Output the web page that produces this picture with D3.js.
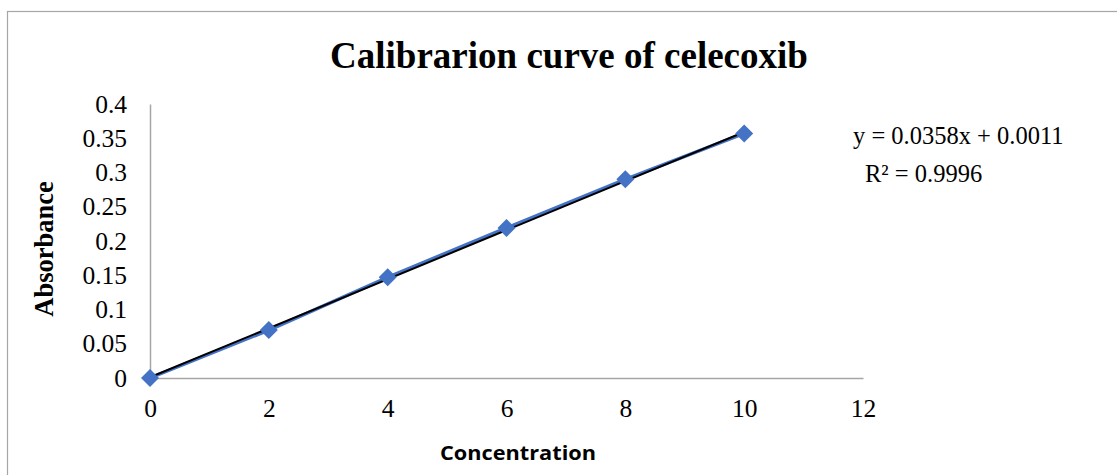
<!DOCTYPE html>
<html>
<head>
<meta charset="utf-8">
<script src="https://cdn.jsdelivr.net/npm/d3@7"></script>
<style>
  body { margin: 0; background: #fff; }
  svg { display: block; }
</style>
</head>
<body>
<svg id="chart" width="1117" height="475"></svg>
<script>
// data
const concentration = [0, 2, 4, 6, 8, 10];
const absorbance = [0, 0.070, 0.147, 0.219, 0.290, 0.357];
const xTicks = [0, 2, 4, 6, 8, 10, 12];
const yTicks = [0, 0.05, 0.1, 0.15, 0.2, 0.25, 0.3, 0.35, 0.4];
const slope = 0.0358, intercept = 0.0011;

const svg = d3.select('#chart');
const serif = '"Liberation Serif", "Times New Roman", serif';

// outer frame
svg.append('rect')
  .attr('x', 7.5).attr('y', 11.5)
  .attr('width', 1130).attr('height', 480)
  .attr('fill', 'none')
  .attr('stroke', '#a6a6a6')
  .attr('stroke-width', 1.2);

const plotLeft = 150, plotRight = 863, plotTop = 104, plotBottom = 378;

const x = d3.scaleLinear().domain([0, 12]).range([plotLeft, plotRight]);
const y = d3.scaleLinear().domain([0, 0.4]).range([plotBottom, plotTop]);

// axes without tick marks
const xAxis = svg.append('g')
  .attr('transform', `translate(0, ${plotBottom})`)
  .call(d3.axisBottom(x).tickValues(xTicks).tickSize(0).tickPadding(22).tickFormat(d3.format('d')));
const yAxis = svg.append('g')
  .attr('transform', `translate(${plotLeft}, 0)`)
  .call(d3.axisLeft(y).tickValues(yTicks).tickSize(0).tickPadding(23).tickFormat(d => String(+d.toFixed(2))));

[xAxis, yAxis].forEach(a => {
  a.select('.domain').attr('stroke', '#a6a6a6').attr('stroke-width', 1.5);
  a.selectAll('text')
    .attr('font-family', serif)
    .attr('font-size', 25.5)
    .attr('fill', '#000');
});
xAxis.selectAll('text').attr('dy', '0.68em');

const pts = concentration.map((c, i) => ({ x: c, y: absorbance[i] }));

// data line
svg.append('path')
  .datum(pts)
  .attr('fill', 'none')
  .attr('stroke', '#4472c4')
  .attr('stroke-width', 3.5)
  .attr('d', d3.line().x(d => x(d.x)).y(d => y(d.y)));

// linear trend line
const xr = d3.extent(concentration);
svg.append('line')
  .attr('x1', x(xr[0])).attr('y1', y(slope * xr[0] + intercept))
  .attr('x2', x(xr[1])).attr('y2', y(slope * xr[1] + intercept))
  .attr('stroke', '#000')
  .attr('stroke-width', 2);

// diamond markers
svg.selectAll('.pt')
  .data(pts)
  .enter()
  .append('path')
  .attr('class', 'pt')
  .attr('transform', d => `translate(${x(d.x)}, ${y(d.y)})`)
  .attr('d', 'M0,-9L9,0L0,9L-9,0Z')
  .attr('fill', '#4472c4');

// title
svg.append('text')
  .attr('x', 569).attr('y', 68)
  .attr('text-anchor', 'middle')
  .attr('font-family', serif)
  .attr('font-weight', 'bold')
  .attr('font-size', 37)
  .text('Calibrarion curve of celecoxib');

// axis titles
svg.append('text')
  .attr('x', 518).attr('y', 460)
  .attr('text-anchor', 'middle')
  .attr('font-family', '"Open Sans", sans-serif')
  .attr('font-weight', 'bold')
  .attr('font-size', 20)
  .attr('textLength', 156)
  .attr('lengthAdjust', 'spacingAndGlyphs')
  .text('Concentration');

svg.append('text')
  .attr('transform', 'translate(53, 249) rotate(-90)')
  .attr('text-anchor', 'middle')
  .attr('font-family', serif)
  .attr('font-weight', 'bold')
  .attr('font-size', 26.5)
  .text('Absorbance');

// trendline equation
svg.append('text')
  .attr('x', 853).attr('y', 143.5)
  .attr('font-family', serif)
  .attr('font-size', 24.5)
  .text(`y = ${slope}x + ${intercept}`);
svg.append('text')
  .attr('x', 865).attr('y', 182)
  .attr('font-family', serif)
  .attr('font-size', 24.5)
  .text('R² = 0.9996');
</script>
</body>
</html>
